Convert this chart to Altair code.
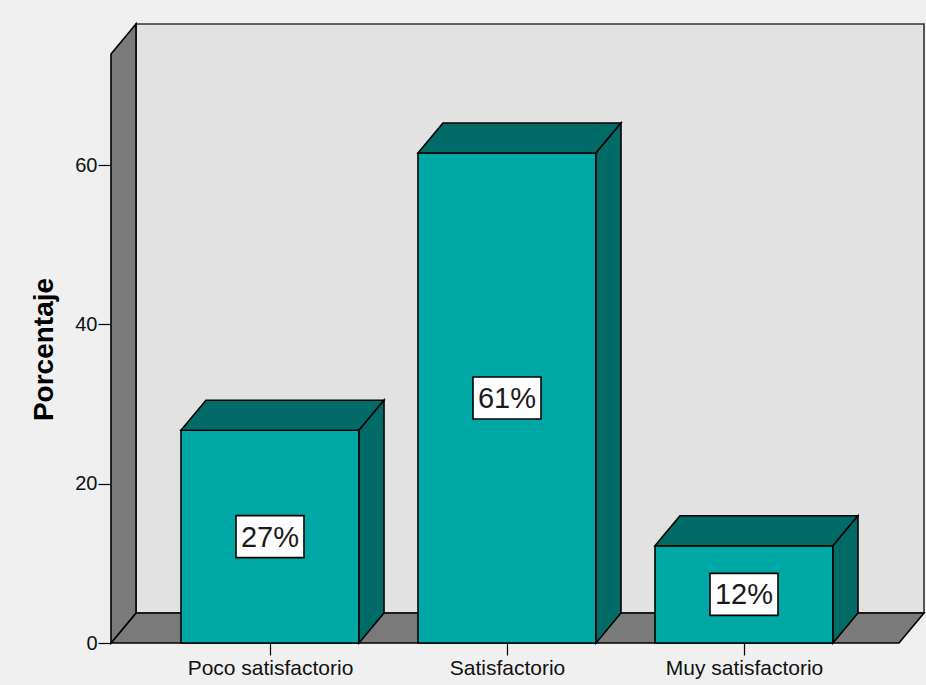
import json
import altair as alt
import pandas as pd

# ---- data ----
categories = ["Poco satisfactorio", "Satisfactorio", "Muy satisfactorio"]
values = [26.7, 61.5, 12.2]
labels = ["27%", "61%", "12%"]
y_ticks = [0, 20, 40, 60]

# ---- style / layout constants ----
W, H = 813, 619
STEP_PX = 237.0                 # pixels per category step
X0 = -159 / STEP_PX             # left end of x domain (category index units)
X1 = X0 + W / STEP_PX           # right end
Y_MAX = 77.7
PX_Y = H / Y_MAX
DX = 25 / STEP_PX               # 3D depth (x)
DY = 30 / PX_Y                  # 3D depth (y)
HALF = 89 / STEP_PX             # half bar width

FRONT = "#00a8a5"
DARK = "#006b67"
WALL = "#7a7a7a"
BACK = "#e2e2e2"
BG = "#f0f0f0"
FONT = "Liberation Sans"
SW = 1.6

xs = alt.Scale(domain=[X0, X1], nice=False, zero=False)
ys = alt.Scale(domain=[0, Y_MAX], nice=False, zero=False)

label_expr = json.dumps(categories) + "[round(datum.value)]"

X_AXIS = alt.Axis(
    values=[0, 1, 2], labelExpr=label_expr, domain=False, grid=False,
    tickSize=12, tickColor="black", tickWidth=1.2,
    labelFont=FONT, labelFontSize=21, labelColor="#111111", labelPadding=2,
    labelFlush=False, labelOverlap=False, title=None)
Y_AXIS = alt.Axis(
    values=y_ticks, domain=False, grid=False,
    tickSize=13, tickColor="black", tickWidth=1.2,
    labelFont=FONT, labelFontSize=20, labelColor="#111111", labelPadding=1,
    title="Porcentaje", titleFont=FONT, titleFontSize=28, titleFontWeight="bold",
    titleColor="black", titleAngle=270, titleAlign="center", titleBaseline="middle",
    titleX=-67, titleY=325)


def X(field, **kw):
    return alt.X(field, scale=xs, axis=X_AXIS, **kw)


def Y(field, **kw):
    return alt.Y(field, scale=ys, axis=Y_AXIS, **kw)


# back wall
back_df = pd.DataFrame([{"x": X0 + DX, "x2": X1, "y": DY, "y2": Y_MAX}])
back = alt.Chart(back_df).mark_rect(fill=BACK, stroke="#333333", strokeWidth=SW).encode(
    x=X("x:Q"), x2="x2:Q", y=Y("y:Q"), y2="y2:Q",
)

# floor (horizontal parallelogram)
floor_df = pd.DataFrame([
    {"id": "f", "y": 0, "x": X0, "x2": X1 - DX},
    {"id": "f", "y": DY, "x": X0 + DX, "x2": X1},
])
floor = alt.Chart(floor_df).mark_area(orient="horizontal", fill=WALL, stroke="black", strokeWidth=SW).encode(
    y=Y("y:Q"), x=X("x:Q", stack=None), x2="x2:Q", detail="id:N",
)

# left wall (vertical parallelogram)
lw_df = pd.DataFrame([
    {"id": "w", "x": X0, "y": 0, "y2": Y_MAX - DY},
    {"id": "w", "x": X0 + DX, "y": DY, "y2": Y_MAX},
])
lwall = alt.Chart(lw_df).mark_area(orient="vertical", fill=WALL, stroke="black", strokeWidth=SW).encode(
    x=X("x:Q"), y=Y("y:Q", stack=None), y2="y2:Q", detail="id:N",
)

# bars
front_rows, top_rows, side_rows, lab_rows = [], [], [], []
for i, (c, v, l) in enumerate(zip(categories, values, labels)):
    front_rows.append({"cat": c, "x": i - HALF, "x2": i + HALF, "y": 0, "y2": v})
    top_rows.append({"id": c, "y": v, "x": i - HALF, "x2": i + HALF})
    top_rows.append({"id": c, "y": v + DY, "x": i - HALF + DX, "x2": i + HALF + DX})
    side_rows.append({"id": c, "x": i + HALF, "y": 0, "y2": v})
    side_rows.append({"id": c, "x": i + HALF + DX, "y": DY, "y2": v + DY})
    lab_rows.append({"x": i, "ym": v / 2, "label": l})

fronts = alt.Chart(pd.DataFrame(front_rows)).mark_rect(fill=FRONT, stroke="black", strokeWidth=SW).encode(
    x=X("x:Q"), x2="x2:Q", y=Y("y:Q"), y2="y2:Q",
)

tops = alt.Chart(pd.DataFrame(top_rows)).mark_area(orient="horizontal", fill=DARK, stroke="black", strokeWidth=SW).encode(
    y=Y("y:Q"), x=X("x:Q", stack=None), x2="x2:Q", detail="id:N",
)

sides = alt.Chart(pd.DataFrame(side_rows)).mark_area(orient="vertical", fill=DARK, stroke="black", strokeWidth=SW).encode(
    x=X("x:Q"), y=Y("y:Q", stack=None), y2="y2:Q", detail="id:N",
)

lab_df = pd.DataFrame(lab_rows)
boxes = alt.Chart(lab_df).mark_rect(
    fill="white", stroke="black", strokeWidth=SW,
    xOffset=-34, x2Offset=34, yOffset=-21, y2Offset=21,
).encode(
    x=X("x:Q"), x2="x:Q", y=Y("ym:Q"), y2="ym:Q",
)
texts = alt.Chart(lab_df).mark_text(font=FONT, fontSize=29, color="#1a1a1a", align="center", baseline="middle", dy=1).encode(
    x=X("x:Q"), y=Y("ym:Q"), text="label:N",
)

chart = alt.layer(back, floor, lwall, fronts, tops, sides, boxes, texts).properties(
    width=W, height=H,
    autosize=alt.AutoSizeParams(type="none"),
    padding={"left": 111, "top": 24, "right": 2, "bottom": 42},
    background=BG,
).configure_view(stroke=None)

chart.save("out.html", embed_options={"renderer": "svg", "actions": False})
